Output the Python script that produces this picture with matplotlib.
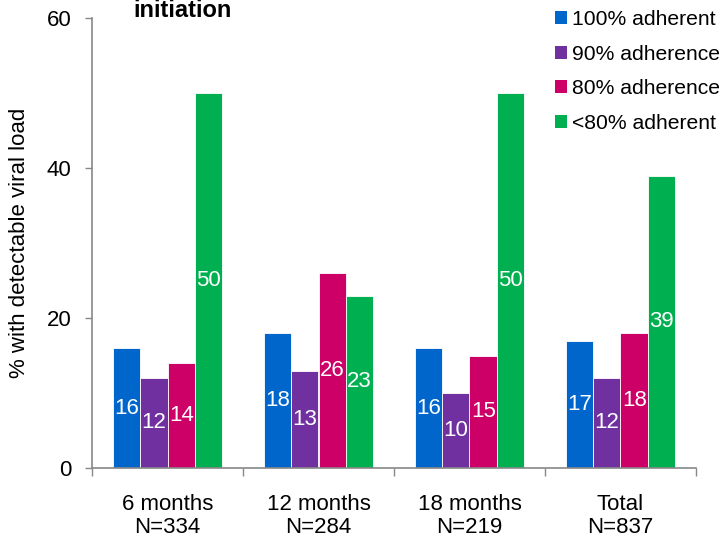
import matplotlib
matplotlib.use("Agg")
import matplotlib.pyplot as plt
from matplotlib.patches import Patch
import numpy as np

plt.rcParams['font.family'] = ['Liberation Sans', 'DejaVu Sans']

categories = ["6 months\nN=334", "12 months\nN=284", "18 months\nN=219", "Total\nN=837"]
series_names = ["100% adherent", "90% adherence", "80% adherence", "<80% adherent"]
adherent_100 = [16, 18, 16, 17]
adherence_90 = [12, 13, 10, 12]
adherence_80 = [14, 26, 15, 18]
adherent_lt80 = [50, 23, 50, 39]
y_ticks = [0, 20, 40, 60]

series = [adherent_100, adherence_90, adherence_80, adherent_lt80]
colors = ["#0066CC", "#7030A0", "#CC0066", "#00B050"]

FS = 16

fig = plt.figure(figsize=(7.27, 5.40), dpi=100)
ax = fig.add_axes([92 / 727, 72 / 540, 604 / 727, 450 / 540])

x = np.arange(len(categories))
width = 0.182
offsets = (np.arange(len(series)) - 1.5) * width

for vals, off, col in zip(series, offsets, colors):
    bars = ax.bar(x + off, vals, width, color=col, edgecolor="white", linewidth=0.6)
    for b, v in zip(bars, vals):
        ax.text(b.get_x() + b.get_width() / 2, v / 2, str(v), ha="center", va="center",
                color="white", fontsize=FS)

ax.set_xlim(-0.5, len(categories) - 0.5)
ax.set_ylim(0, 60)
ax.set_yticks(y_ticks)
ax.set_xticks(x)
ax.set_xticklabels(categories, fontsize=FS, linespacing=1.1)
ax.set_xticks(np.arange(len(categories) + 1) - 0.5, minor=True)
ax.tick_params(axis="x", which="major", length=0, pad=19)
ax.tick_params(axis="x", which="minor", length=6, width=1, color="#888888", direction="out")
ax.tick_params(axis="y", length=5, width=1, color="#888888", labelsize=FS, pad=10)

for side in ("top", "right"):
    ax.spines[side].set_visible(False)
for side in ("left", "bottom"):
    ax.spines[side].set_color("#888888")
    ax.spines[side].set_linewidth(1.2)

ax.set_ylabel("% with detectable viral load", fontsize=FS, labelpad=12)

fig.text(133 / 727, 1 - 17 / 540, "initiation", fontsize=17, fontweight="bold",
         ha="left", va="baseline")

handles = [Patch(facecolor=c, edgecolor="none") for c in colors]
fig.legend(handles, series_names, loc="upper left", bbox_to_anchor=(555 / 727, 1 - 10 / 540),
           frameon=False, fontsize=15.2, handlelength=0.55, handleheight=0.55,
           handletextpad=0.25, labelspacing=0.74, borderpad=0, borderaxespad=0)

fig.savefig("out.png", dpi=100)
